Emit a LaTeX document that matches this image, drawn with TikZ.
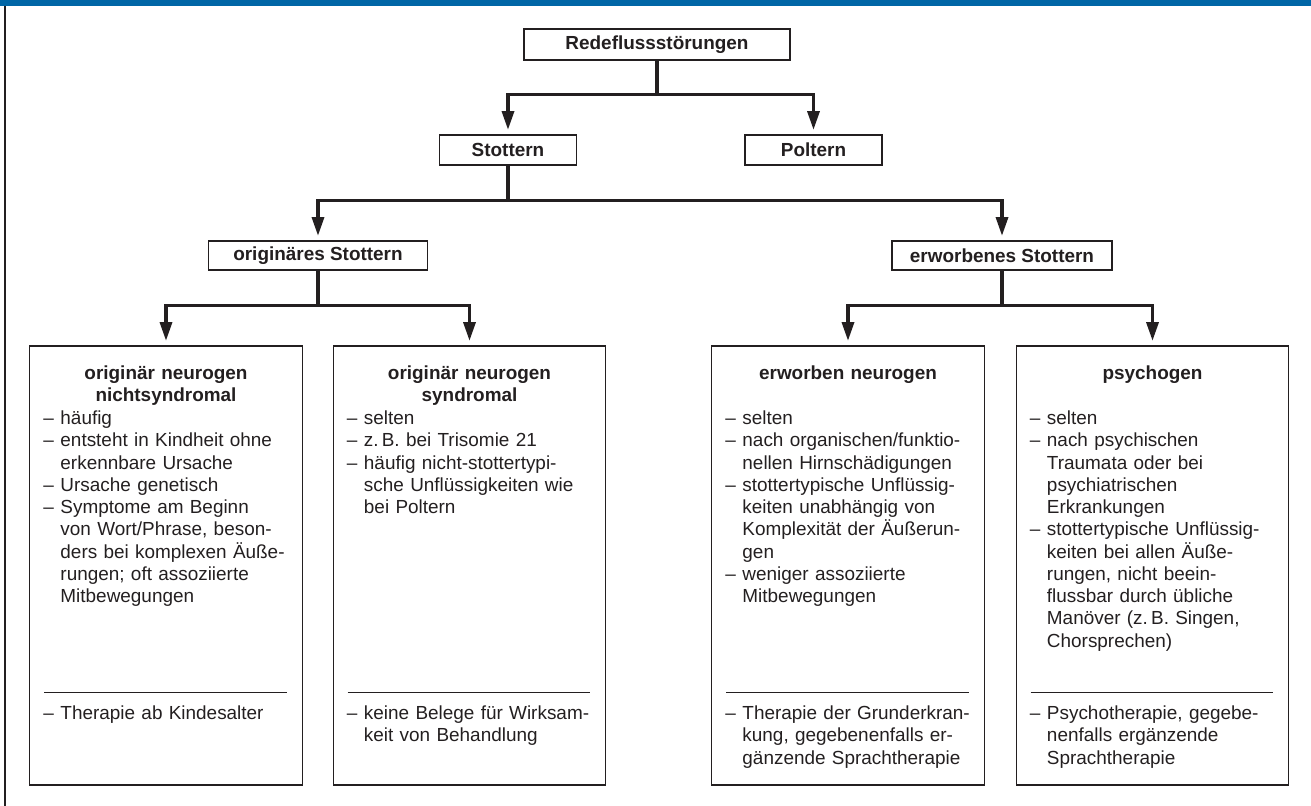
\documentclass[tikz,border=0pt]{standalone}
\usepackage{fontspec}
\setmainfont{Liberation Sans}
\usetikzlibrary{arrows.meta}
\definecolor{barblue}{RGB}{0,102,166}
\definecolor{ink}{RGB}{35,31,32}
\newcommand{\dashln}[1]{\makebox[12.75pt][l]{–}#1}
\newcommand{\contln}[1]{\hspace*{12.75pt}#1}
\newcommand{\txtfont}{\fontsize{14.2pt}{16.7pt}\selectfont}
\begin{document}
\begin{tikzpicture}[x=0.75pt,y=-0.75pt,
  headbox/.style={draw=ink,line width=0.8pt,fill=white,inner sep=0pt,text=ink,font=\txtfont\bfseries},
  bigbox/.style={draw=ink,line width=0.8pt,minimum width=204.4pt,minimum height=329.25pt,inner sep=0pt},
  boxtitle/.style={anchor=base,align=center,text width=195pt,inner sep=0pt,text=ink,font=\txtfont\bfseries},
  boxtext/.style={anchor=base west,align=left,text width=195pt,inner sep=0pt,text=ink,font=\txtfont},
  link/.style={draw=ink,line width=2.4pt,-{Triangle[length=14pt,width=9pt]},shorten >=3.5pt},
  sepline/.style={draw=ink,line width=0.8pt}]
\useasboundingbox (0,0) rectangle (1311,806);
% frame
\fill[barblue] (0,0) rectangle (1311,6);
\draw[ink,line width=1.5pt] (4.5,6) -- (4.5,806);

% upper levels
\node[headbox,minimum width=199.5pt,minimum height=23.25pt] (red) at (657,44.5) {Redeflussstörungen};
\node[headbox,minimum width=102.75pt,minimum height=22.5pt] (stot) at (508,150) {Stottern};
\node[headbox,minimum width=102.75pt,minimum height=22.5pt] (polt) at (813.5,150) {Poltern};
\node[headbox,minimum width=164.25pt,minimum height=21.75pt] (orig) at (318,255.5) {originäres Stottern};
\node[headbox,minimum width=165pt,minimum height=21.75pt] (erw) at (1002,255.5) {erworbenes Stottern};

\draw[link] (red.south) -- ++(0,34) -| (stot.north);
\draw[link] (red.south) -- ++(0,34) -| (polt.north);
\draw[link] (stot.south) -- ++(0,35) -| (orig.north);
\draw[link] (stot.south) -- ++(0,35) -| (erw.north);

% lower boxes
\node[bigbox] (onn) at (166,565.5) {};
\node[bigbox] (ons) at (469.5,565.5) {};
\node[bigbox] (ewn) at (848,565.5) {};
\node[bigbox] (psy) at (1152.5,565.5) {};

\draw[link] (orig.south) -- ++(0,35) -| (onn.north);
\draw[link] (orig.south) -- ++(0,35) -| (ons.north);
\draw[link] (erw.south) -- ++(0,35) -| (ewn.north);
\draw[link] (erw.south) -- ++(0,35) -| (psy.north);

% originaer neurogen nichtsyndromal
\node[boxtitle] (onnT) at ([shift={(0,34)}]onn.north) {originär neurogen\\nichtsyndromal};
\node[boxtext] (onnL) at ([shift={(14,79)}]onn.north west) {\dashln{häufig}\\
  \dashln{entsteht in Kindheit ohne}\\ \contln{erkennbare Ursache}\\
  \dashln{Ursache genetisch}\\
  \dashln{Symptome am Beginn}\\ \contln{von Wort/Phrase, beson-}\\
  \contln{ders bei komplexen Äuße-}\\ \contln{rungen; oft assoziierte}\\
  \contln{Mitbewegungen}};
\draw[sepline] ([shift={(15,347)}]onn.north west) -- ([shift={(-16,347)}]onn.north east);
\node[boxtext] (onnB) at ([shift={(14,374)}]onn.north west) {\dashln{Therapie ab Kindesalter}};

% originaer neurogen syndromal
\node[boxtitle] (onsT) at ([shift={(0,34)}]ons.north) {originär neurogen\\syndromal};
\node[boxtext] (onsL) at ([shift={(14,79)}]ons.north west) {\dashln{selten}\\
  \dashln{z.\,B. bei Trisomie 21}\\
  \dashln{häufig nicht-stottertypi-}\\ \contln{sche Unflüssigkeiten wie}\\
  \contln{bei Poltern}};
\draw[sepline] ([shift={(15,347)}]ons.north west) -- ([shift={(-16,347)}]ons.north east);
\node[boxtext] (onsB) at ([shift={(14,374)}]ons.north west) {\dashln{keine Belege für Wirksam-}\\
  \contln{keit von Behandlung}};

% erworben neurogen
\node[boxtitle] (ewnT) at ([shift={(0,34)}]ewn.north) {erworben neurogen};
\node[boxtext] (ewnL) at ([shift={(14,79)}]ewn.north west) {\dashln{selten}\\
  \dashln{nach organischen/funktio-}\\ \contln{nellen Hirnschädigungen}\\
  \dashln{stottertypische Unflüssig-}\\ \contln{keiten unabhängig von}\\
  \contln{Komplexität der Äußerun-}\\ \contln{gen}\\
  \dashln{weniger assoziierte}\\ \contln{Mitbewegungen}};
\draw[sepline] ([shift={(15,347)}]ewn.north west) -- ([shift={(-16,347)}]ewn.north east);
\node[boxtext] (ewnB) at ([shift={(14,374)}]ewn.north west) {\dashln{Therapie der Grunderkran-}\\
  \contln{kung, gegebenenfalls er-}\\ \contln{gänzende Sprachtherapie}};

% psychogen
\node[boxtitle] (psyT) at ([shift={(0,34)}]psy.north) {psychogen};
\node[boxtext] (psyL) at ([shift={(14,79)}]psy.north west) {\dashln{selten}\\
  \dashln{nach psychischen}\\ \contln{Traumata oder bei}\\
  \contln{psychiatrischen}\\ \contln{Erkrankungen}\\
  \dashln{stottertypische Unflüssig-}\\ \contln{keiten bei allen Äuße-}\\
  \contln{rungen, nicht beein-}\\ \contln{flussbar durch übliche}\\
  \contln{Manöver (z.\,B. Singen,}\\ \contln{Chorsprechen)}};
\draw[sepline] ([shift={(15,347)}]psy.north west) -- ([shift={(-16,347)}]psy.north east);
\node[boxtext] (psyB) at ([shift={(14,374)}]psy.north west) {\dashln{Psychotherapie, gegebe-}\\
  \contln{nenfalls ergänzende}\\ \contln{Sprachtherapie}};
\end{tikzpicture}
\end{document}
